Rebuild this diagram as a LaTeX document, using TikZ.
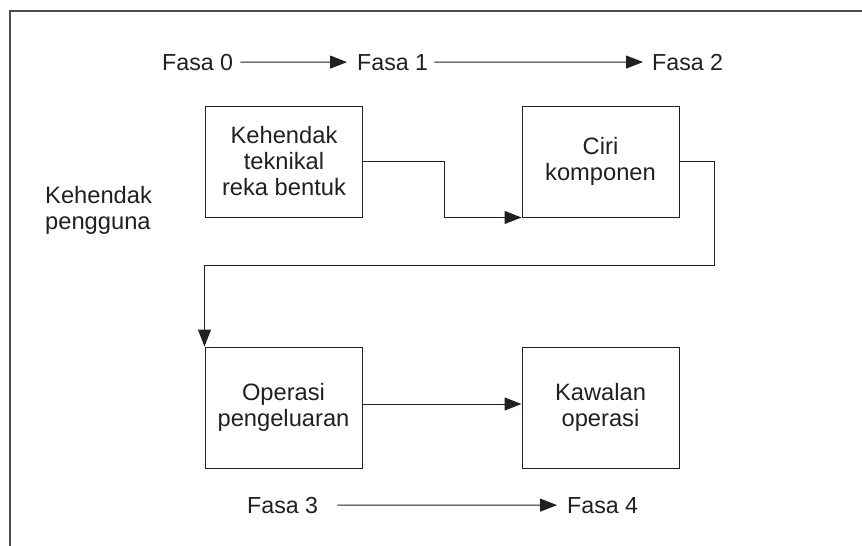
\documentclass[tikz,border=0pt]{standalone}
\usepackage{fontspec}
\setmainfont{Liberation Sans}
\usetikzlibrary{arrows.meta,calc}
\definecolor{ink}{HTML}{231F20}
\begin{document}
\begin{tikzpicture}[x=1pt,y=-1pt,
  every node/.style={text=ink,font=\fontsize{23.7}{26}\selectfont,inner sep=0pt},
  stepbox/.style={draw=ink,line width=1pt,align=center,minimum width=157pt},
  conn/.style={draw=ink,line width=1pt,-{Triangle[length=17pt,width=13pt]}},
  frameline/.style={draw=black!70,line width=1.5pt}]
\useasboundingbox (0,0) rectangle (862,546);
% frame (top and left edges only)
\coordinate (ftr) at (862,11);
\coordinate (ftl) at (10,11);
\coordinate (fbl) at (10,546);
\draw[frameline] (ftr) -- (ftl) -- (fbl);
% phase labels
\node[anchor=base west,font=\fontsize{23.2}{26}\selectfont] (f0) at (162,70) {Fasa 0};
\node[anchor=base west,font=\fontsize{23.2}{26}\selectfont] (f1) at (357,70) {Fasa 1};
\node[anchor=base west,font=\fontsize{23.2}{26}\selectfont] (f2) at (652,70) {Fasa 2};
\node[anchor=base west,font=\fontsize{23.2}{26}\selectfont] (f3) at (247,513) {Fasa 3};
\node[anchor=base west,font=\fontsize{23.2}{26}\selectfont] (f4) at (567,513) {Fasa 4};
\draw[conn,shorten <=7pt,shorten >=10pt] (f0) -- (f1);
\draw[conn,shorten <=6pt,shorten >=9pt] (f1) -- (f2);
\draw[conn,shorten <=19pt,shorten >=10pt] (f3) -- (f4);
% side label
\node[anchor=base west,align=left] (kp) at (45,229) {Kehendak\\pengguna};
% boxes
\node[stepbox,minimum height=111pt] (b1) at (284,161.5) {Kehendak\\teknikal\\reka bentuk};
\node[stepbox,minimum height=111pt] (b2) at (600.5,161.5) {Ciri\\komponen};
\node[stepbox,minimum height=121pt] (b3) at (283.5,407.5) {Operasi\\pengeluaran};
\node[stepbox,minimum height=121pt] (b4) at (600.5,407.5) {Kawalan\\operasi};
% connectors
\draw[conn] (b1.east) -| ([xshift=81pt]b1.east) |- (b2.south west);
\draw[conn] (b2.east) -- ([xshift=35pt]b2.east) |- ([yshift=81pt]b3.north west) -- (b3.north west);
\draw[conn] ([yshift=3.5pt]b3.east) -- ([yshift=3.5pt]b4.west);
\end{tikzpicture}
\end{document}
